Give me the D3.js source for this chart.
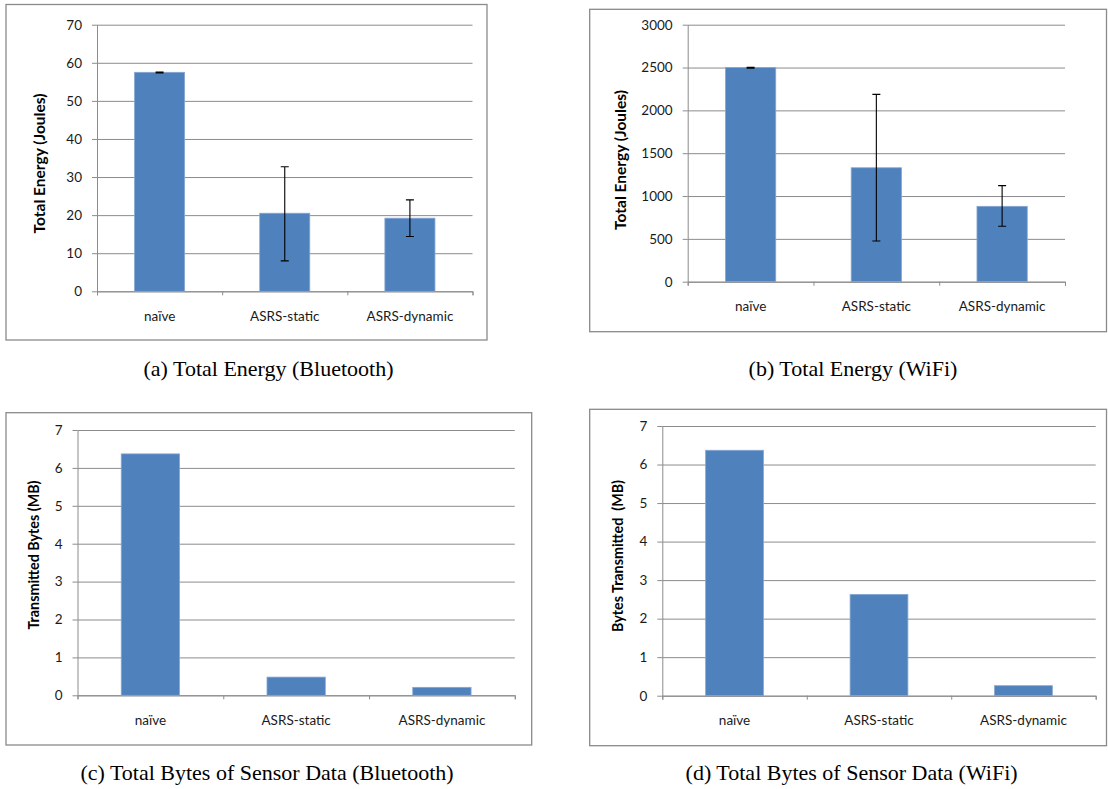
<!DOCTYPE html>
<meta charset="utf-8">

<style>

  html, body {
    margin: 0;
    background-color: #fff;
  }

  #svg_main {
    display: block;
  }

  .frame {
    fill: #fff;
    stroke: #8a8a8a;
    stroke-width: 1.3px;
  }

  .grid line {
    stroke: #8c8c8c;
    stroke-width: 1px;
  }

  .tick text {
    font-family: Lato, "Open Sans", sans-serif;
    font-size: 13.5px;
    fill: #1a1a1a;
  }

  .bar {
    fill: #4f81bd;
    stroke: #86a7d2;
    stroke-width: 0.8px;
  }

  .err {
    stroke: #000;
    stroke-width: 1.1px;
    fill: none;
  }

  .ytitle {
    font-family: Lato, "Open Sans", sans-serif;
    font-weight: bold;
    fill: #000;
  }

  .caption {
    font-family: "Liberation Serif", serif;
    font-size: 22px;
    fill: #000;
  }

</style>

<svg id="svg_main" width="1108" height="789"></svg>

<script src="https://cdn.jsdelivr.net/npm/d3@7"></script>
<script>

  // data
  const categories = ["naïve", "ASRS-static", "ASRS-dynamic"];

  const btEnergy = [57.5, 20.5, 19.2];
  const btEnergyLow = [57.35, 8.0, 14.4];
  const btEnergyHigh = [57.55, 32.7, 24.0];
  const btEnergyTicks = [0, 10, 20, 30, 40, 50, 60, 70];

  const wifiEnergy = [2500, 1330, 880];
  const wifiEnergyLow = [2493, 475, 647];
  const wifiEnergyHigh = [2503, 2187, 1121];
  const wifiEnergyTicks = [0, 500, 1000, 1500, 2000, 2500, 3000];

  const btBytes = [6.37, 0.48, 0.21];
  const wifiBytes = [6.37, 2.63, 0.26];
  const bytesTicks = [0, 1, 2, 3, 4, 5, 6, 7];

  // one entry per sub-figure
  let panels = [
    { values: btEnergy, low: btEnergyLow, high: btEnergyHigh, ticks: btEnergyTicks,
      title: "Total Energy (Joules)", caption: "(a) Total Energy (Bluetooth)",
      frame: [6, 4.5, 487, 340], plot: [97, 472.5, 24.7, 291.3],
      titleAt: [40, 163.5], titleSize: 15.5, captionAt: [268.5, 376] },
    { values: wifiEnergy, low: wifiEnergyLow, high: wifiEnergyHigh, ticks: wifiEnergyTicks,
      title: "Total Energy (Joules)", caption: "(b) Total Energy (WiFi)",
      frame: [589.7, 9.3, 1106.5, 331.7], plot: [687.7, 1065, 24.7, 281.7],
      titleAt: [621, 160], titleSize: 15.5, captionAt: [853, 376] },
    { values: btBytes, ticks: bytesTicks,
      title: "Transmitted Bytes (MB)", caption: "(c) Total Bytes of Sensor Data (Bluetooth)",
      frame: [6, 412.7, 531.7, 745], plot: [77.5, 514.8, 430, 695.3],
      titleAt: [34.4, 555], titleSize: 14.3, captionAt: [267, 780] },
    { values: wifiBytes, ticks: bytesTicks,
      title: "Bytes Transmitted  (MB)", caption: "(d) Total Bytes of Sensor Data (WiFi)",
      frame: [589.7, 409.3, 1106.5, 745.7], plot: [662.3, 1095.7, 426, 695.7],
      titleAt: [618.3, 556], titleSize: 14.3, captionAt: [851.6, 780] }
  ];

  let svg = d3.select("#svg_main");

  panels.forEach(function(p) {
    let [fx0, fy0, fx1, fy1] = p.frame;
    let [x0, x1, yTop, yBot] = p.plot;
    let w = x1 - x0;

    svg.append("rect")
      .attr("class", "frame")
      .attr("x", fx0).attr("y", fy0)
      .attr("width", fx1 - fx0).attr("height", fy1 - fy0);

    let x = d3.scaleBand()
      .domain(categories)
      .range([x0, x1])
      .paddingInner(0.6)
      .paddingOuter(0.3);

    let xEdge = d3.scaleLinear().domain([0, categories.length]).range([x0, x1]);

    let y = d3.scaleLinear()
      .domain([0, d3.max(p.ticks)])
      .range([yBot, yTop]);

    // gridlines
    let grid = svg.append("g")
      .attr("class", "grid")
      .attr("transform", "translate(" + x0 + ",0)")
      .call(d3.axisLeft(y).tickValues(p.ticks).tickSize(-w).tickFormat(""));
    grid.select(".domain").remove();

    // y axis with outside tick marks
    let yAxis = svg.append("g")
      .attr("class", "grid")
      .attr("transform", "translate(" + x0 + ",0)")
      .call(d3.axisLeft(y).tickValues(p.ticks).tickFormat(d3.format("d"))
        .tickSizeInner(5).tickSizeOuter(0).tickPadding(10));
    yAxis.select(".domain").attr("stroke", "#8c8c8c");

    // x axis tick marks at category edges
    let xTicks = svg.append("g")
      .attr("class", "grid")
      .attr("transform", "translate(0," + yBot + ")")
      .call(d3.axisBottom(xEdge).tickValues(d3.range(categories.length + 1)).tickSize(4).tickFormat(""));
    xTicks.select(".domain").attr("stroke", "#8c8c8c");

    // category labels
    let xLabels = svg.append("g")
      .attr("transform", "translate(0," + yBot + ")")
      .call(d3.axisBottom(x).tickSize(0).tickPadding(20));
    xLabels.select(".domain").remove();

    svg.append("g")
      .selectAll("rect")
      .data(p.values)
      .join("rect")
      .attr("class", "bar")
      .attr("x", (d, i) => x(categories[i]))
      .attr("width", x.bandwidth())
      .attr("y", d => y(d))
      .attr("height", d => yBot - y(d));

    if (p.low) {
      let cap = 4;
      svg.append("g")
        .selectAll("path")
        .data(p.values)
        .join("path")
        .attr("class", "err")
        .attr("d", function(d, i) {
          let cx = x(categories[i]) + x.bandwidth() / 2;
          let lo = y(p.low[i]), hi = y(p.high[i]);
          return "M" + cx + "," + lo + "V" + hi +
            "M" + (cx - cap) + "," + hi + "H" + (cx + cap) +
            "M" + (cx - cap) + "," + lo + "H" + (cx + cap);
        });
    }

    svg.append("text")
      .attr("class", "ytitle")
      .attr("transform", "translate(" + p.titleAt[0] + "," + p.titleAt[1] + ") rotate(-90)")
      .attr("text-anchor", "middle")
      .attr("dy", "0.35em")
      .style("font-size", p.titleSize + "px")
      .style("white-space", "pre")
      .text(p.title);

    svg.append("text")
      .attr("class", "caption")
      .attr("x", p.captionAt[0])
      .attr("y", p.captionAt[1])
      .attr("text-anchor", "middle")
      .text(p.caption);
  });

</script>
